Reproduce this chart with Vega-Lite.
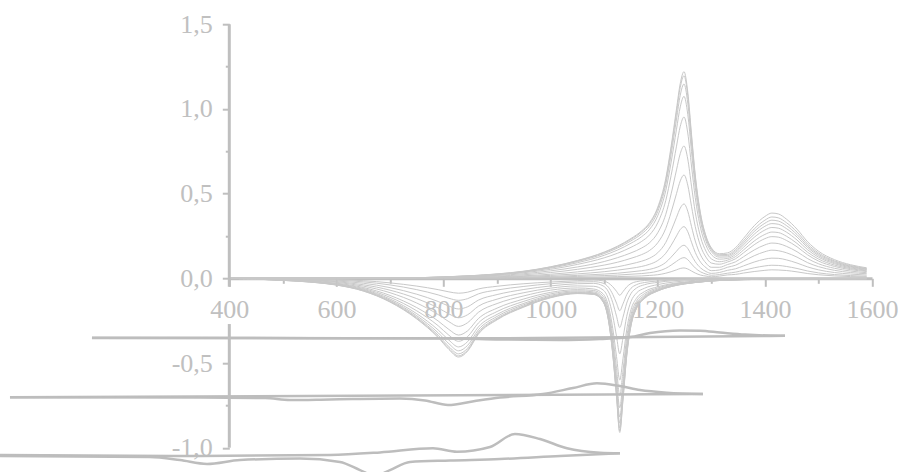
{
  "$schema": "https://vega.github.io/schema/vega-lite/v6.json",
  "width": 642.7,
  "height": 423.5,
  "autosize": "none",
  "padding": {"left": 229.3, "top": 24.2, "right": 34, "bottom": 24.3},
  "background": "white",
  "config": {"view": {"stroke": null}},
  "datasets": {
    "pos": [
      {"x":400,"p1":0,"p2":0,"p3":0,"p4":0,"p5":0,"p6":0,"p7":0,"p8":0,"p9":0,"p10":0,"p11":0,"p12":0},
      {"x":600,"p1":0,"p2":0,"p3":0,"p4":0,"p5":0,"p6":0,"p7":0,"p8":0,"p9":0,"p10":0,"p11":0,"p12":0},
      {"x":700,"p1":0,"p2":0,"p3":0,"p4":0,"p5":0,"p6":0.001,"p7":0.001,"p8":0.001,"p9":0.001,"p10":0.001,"p11":0.001,"p12":0.001},
      {"x":750,"p1":0,"p2":0,"p3":0,"p4":0.001,"p5":0.001,"p6":0.002,"p7":0.002,"p8":0.002,"p9":0.003,"p10":0.003,"p11":0.003,"p12":0.003},
      {"x":800,"p1":0,"p2":0.001,"p3":0.001,"p4":0.002,"p5":0.003,"p6":0.004,"p7":0.005,"p8":0.006,"p9":0.007,"p10":0.008,"p11":0.008,"p12":0.008},
      {"x":850,"p1":0.001,"p2":0.002,"p3":0.002,"p4":0.004,"p5":0.005,"p6":0.008,"p7":0.01,"p8":0.012,"p9":0.013,"p10":0.014,"p11":0.015,"p12":0.015},
      {"x":900,"p1":0.001,"p2":0.003,"p3":0.004,"p4":0.007,"p5":0.009,"p6":0.013,"p7":0.017,"p8":0.02,"p9":0.023,"p10":0.024,"p11":0.025,"p12":0.026},
      {"x":950,"p1":0.002,"p2":0.004,"p3":0.007,"p4":0.011,"p5":0.015,"p6":0.021,"p7":0.027,"p8":0.033,"p9":0.037,"p10":0.039,"p11":0.041,"p12":0.042},
      {"x":1000,"p1":0.003,"p2":0.007,"p3":0.011,"p4":0.017,"p5":0.024,"p6":0.034,"p7":0.044,"p8":0.053,"p9":0.06,"p10":0.064,"p11":0.067,"p12":0.068},
      {"x":1050,"p1":0.005,"p2":0.011,"p3":0.017,"p4":0.026,"p5":0.038,"p6":0.053,"p7":0.067,"p8":0.082,"p9":0.092,"p10":0.099,"p11":0.103,"p12":0.105},
      {"x":1100,"p1":0.008,"p2":0.016,"p3":0.025,"p4":0.039,"p5":0.056,"p6":0.078,"p7":0.099,"p8":0.121,"p9":0.136,"p10":0.146,"p11":0.152,"p12":0.155},
      {"x":1125,"p1":0.01,"p2":0.019,"p3":0.03,"p4":0.048,"p5":0.068,"p6":0.095,"p7":0.122,"p8":0.148,"p9":0.167,"p10":0.179,"p11":0.186,"p12":0.19},
      {"x":1150,"p1":0.012,"p2":0.024,"p3":0.038,"p4":0.059,"p5":0.085,"p6":0.118,"p7":0.15,"p8":0.183,"p9":0.207,"p10":0.221,"p11":0.23,"p12":0.235},
      {"x":1170,"p1":0.014,"p2":0.028,"p3":0.045,"p4":0.07,"p5":0.101,"p6":0.14,"p7":0.179,"p8":0.218,"p9":0.246,"p10":0.263,"p11":0.274,"p12":0.28},
      {"x":1185,"p1":0.017,"p2":0.033,"p3":0.053,"p4":0.083,"p5":0.119,"p6":0.165,"p7":0.211,"p8":0.257,"p9":0.29,"p10":0.31,"p11":0.323,"p12":0.33},
      {"x":1200,"p1":0.021,"p2":0.042,"p3":0.067,"p4":0.105,"p5":0.151,"p6":0.21,"p7":0.269,"p8":0.328,"p9":0.37,"p10":0.395,"p11":0.412,"p12":0.42},
      {"x":1215,"p1":0.03,"p2":0.059,"p3":0.094,"p4":0.148,"p5":0.212,"p6":0.295,"p7":0.378,"p8":0.46,"p9":0.519,"p10":0.555,"p11":0.578,"p12":0.59},
      {"x":1225,"p1":0.039,"p2":0.078,"p3":0.125,"p4":0.195,"p5":0.281,"p6":0.39,"p7":0.499,"p8":0.608,"p9":0.686,"p10":0.733,"p11":0.764,"p12":0.78},
      {"x":1235,"p1":0.05,"p2":0.1,"p3":0.16,"p4":0.25,"p5":0.36,"p6":0.5,"p7":0.64,"p8":0.78,"p9":0.88,"p10":0.94,"p11":0.98,"p12":1.0},
      {"x":1242,"p1":0.058,"p2":0.115,"p3":0.184,"p4":0.288,"p5":0.414,"p6":0.575,"p7":0.736,"p8":0.897,"p9":1.012,"p10":1.081,"p11":1.127,"p12":1.15},
      {"x":1249,"p1":0.061,"p2":0.122,"p3":0.195,"p4":0.305,"p5":0.439,"p6":0.61,"p7":0.781,"p8":0.952,"p9":1.074,"p10":1.147,"p11":1.196,"p12":1.22},
      {"x":1256,"p1":0.055,"p2":0.11,"p3":0.176,"p4":0.275,"p5":0.396,"p6":0.55,"p7":0.704,"p8":0.858,"p9":0.968,"p10":1.034,"p11":1.078,"p12":1.1},
      {"x":1263,"p1":0.043,"p2":0.085,"p3":0.136,"p4":0.213,"p5":0.306,"p6":0.425,"p7":0.544,"p8":0.663,"p9":0.748,"p10":0.799,"p11":0.833,"p12":0.85},
      {"x":1270,"p1":0.031,"p2":0.061,"p3":0.098,"p4":0.153,"p5":0.22,"p6":0.305,"p7":0.39,"p8":0.476,"p9":0.537,"p10":0.573,"p11":0.598,"p12":0.61},
      {"x":1280,"p1":0.019,"p2":0.038,"p3":0.061,"p4":0.095,"p5":0.137,"p6":0.19,"p7":0.243,"p8":0.296,"p9":0.334,"p10":0.357,"p11":0.372,"p12":0.38},
      {"x":1290,"p1":0.013,"p2":0.025,"p3":0.04,"p4":0.063,"p5":0.09,"p6":0.125,"p7":0.16,"p8":0.195,"p9":0.22,"p10":0.235,"p11":0.245,"p12":0.25},
      {"x":1300,"p1":0.009,"p2":0.018,"p3":0.029,"p4":0.045,"p5":0.065,"p6":0.09,"p7":0.115,"p8":0.14,"p9":0.158,"p10":0.169,"p11":0.176,"p12":0.18},
      {"x":1315,"p1":0.013,"p2":0.022,"p3":0.034,"p4":0.049,"p5":0.065,"p6":0.083,"p7":0.098,"p8":0.113,"p9":0.125,"p10":0.133,"p11":0.139,"p12":0.145},
      {"x":1330,"p1":0.02,"p2":0.03,"p3":0.047,"p4":0.065,"p5":0.081,"p6":0.096,"p7":0.107,"p8":0.117,"p9":0.126,"p10":0.134,"p11":0.141,"p12":0.15},
      {"x":1345,"p1":0.023,"p2":0.036,"p3":0.056,"p4":0.077,"p5":0.097,"p6":0.115,"p7":0.128,"p8":0.14,"p9":0.151,"p10":0.16,"p11":0.169,"p12":0.18},
      {"x":1360,"p1":0.031,"p2":0.047,"p3":0.073,"p4":0.101,"p5":0.127,"p6":0.15,"p7":0.167,"p8":0.183,"p9":0.197,"p10":0.209,"p11":0.221,"p12":0.235},
      {"x":1380,"p1":0.04,"p2":0.062,"p3":0.096,"p4":0.133,"p5":0.167,"p6":0.198,"p7":0.22,"p8":0.242,"p9":0.26,"p10":0.276,"p11":0.291,"p12":0.31},
      {"x":1400,"p1":0.047,"p2":0.073,"p3":0.113,"p4":0.157,"p5":0.197,"p6":0.234,"p7":0.259,"p8":0.285,"p9":0.307,"p10":0.325,"p11":0.343,"p12":0.365},
      {"x":1413,"p1":0.05,"p2":0.077,"p3":0.119,"p4":0.166,"p5":0.208,"p6":0.246,"p7":0.273,"p8":0.3,"p9":0.323,"p10":0.343,"p11":0.362,"p12":0.385},
      {"x":1425,"p1":0.049,"p2":0.076,"p3":0.118,"p4":0.163,"p5":0.205,"p6":0.243,"p7":0.27,"p8":0.296,"p9":0.319,"p10":0.338,"p11":0.357,"p12":0.38},
      {"x":1440,"p1":0.046,"p2":0.07,"p3":0.109,"p4":0.151,"p5":0.189,"p6":0.224,"p7":0.249,"p8":0.273,"p9":0.294,"p10":0.312,"p11":0.329,"p12":0.35},
      {"x":1460,"p1":0.038,"p2":0.058,"p3":0.09,"p4":0.125,"p5":0.157,"p6":0.186,"p7":0.206,"p8":0.226,"p9":0.244,"p10":0.258,"p11":0.273,"p12":0.29},
      {"x":1480,"p1":0.028,"p2":0.043,"p3":0.067,"p4":0.092,"p5":0.116,"p6":0.138,"p7":0.153,"p8":0.168,"p9":0.181,"p10":0.191,"p11":0.202,"p12":0.215},
      {"x":1500,"p1":0.021,"p2":0.032,"p3":0.05,"p4":0.069,"p5":0.086,"p6":0.102,"p7":0.114,"p8":0.125,"p9":0.134,"p10":0.142,"p11":0.15,"p12":0.16},
      {"x":1530,"p1":0.014,"p2":0.022,"p3":0.034,"p4":0.047,"p5":0.059,"p6":0.07,"p7":0.078,"p8":0.086,"p9":0.092,"p10":0.098,"p11":0.103,"p12":0.11},
      {"x":1560,"p1":0.01,"p2":0.016,"p3":0.025,"p4":0.034,"p5":0.043,"p6":0.051,"p7":0.057,"p8":0.062,"p9":0.067,"p10":0.071,"p11":0.075,"p12":0.08},
      {"x":1590,"p1":0.008,"p2":0.012,"p3":0.019,"p4":0.027,"p5":0.033,"p6":0.04,"p7":0.044,"p8":0.048,"p9":0.052,"p10":0.055,"p11":0.058,"p12":0.062}
    ],
    "neg": [
      {"x":400,"n1":0,"n2":0,"n3":0,"n4":0,"n5":0,"n6":0,"n7":0,"n8":0,"n9":0,"n10":0,"n11":0,"n12":0},
      {"x":450,"n1":-0.001,"n2":-0.001,"n3":-0.002,"n4":-0.003,"n5":-0.003,"n6":-0.004,"n7":-0.004,"n8":-0.004,"n9":-0.005,"n10":-0.005,"n11":-0.005,"n12":-0.005},
      {"x":500,"n1":-0.002,"n2":-0.003,"n3":-0.005,"n4":-0.006,"n5":-0.007,"n6":-0.009,"n7":-0.01,"n8":-0.01,"n9":-0.011,"n10":-0.012,"n11":-0.012,"n12":-0.012},
      {"x":550,"n1":-0.004,"n2":-0.006,"n3":-0.009,"n4":-0.011,"n5":-0.013,"n6":-0.016,"n7":-0.018,"n8":-0.019,"n9":-0.02,"n10":-0.021,"n11":-0.022,"n12":-0.022},
      {"x":600,"n1":-0.008,"n2":-0.011,"n3":-0.016,"n4":-0.02,"n5":-0.024,"n6":-0.029,"n7":-0.032,"n8":-0.035,"n9":-0.037,"n10":-0.038,"n11":-0.039,"n12":-0.04},
      {"x":650,"n1":-0.014,"n2":-0.021,"n3":-0.029,"n4":-0.038,"n5":-0.046,"n6":-0.054,"n7":-0.06,"n8":-0.065,"n9":-0.069,"n10":-0.072,"n11":-0.074,"n12":-0.075},
      {"x":700,"n1":-0.027,"n2":-0.039,"n3":-0.055,"n4":-0.07,"n5":-0.085,"n6":-0.101,"n7":-0.112,"n8":-0.122,"n9":-0.129,"n10":-0.134,"n11":-0.138,"n12":-0.14},
      {"x":750,"n1":-0.046,"n2":-0.067,"n3":-0.094,"n4":-0.12,"n5":-0.146,"n6":-0.173,"n7":-0.192,"n8":-0.209,"n9":-0.221,"n10":-0.23,"n11":-0.236,"n12":-0.24},
      {"x":790,"n1":-0.067,"n2":-0.098,"n3":-0.137,"n4":-0.175,"n5":-0.214,"n6":-0.252,"n7":-0.28,"n8":-0.305,"n9":-0.322,"n10":-0.336,"n11":-0.345,"n12":-0.35},
      {"x":810,"n1":-0.08,"n2":-0.118,"n3":-0.164,"n4":-0.21,"n5":-0.256,"n6":-0.302,"n7":-0.336,"n8":-0.365,"n9":-0.386,"n10":-0.403,"n11":-0.414,"n12":-0.42},
      {"x":828,"n1":-0.088,"n2":-0.13,"n3":-0.181,"n4":-0.233,"n5":-0.284,"n6":-0.335,"n7":-0.372,"n8":-0.405,"n9":-0.428,"n10":-0.446,"n11":-0.458,"n12":-0.465},
      {"x":845,"n1":-0.082,"n2":-0.12,"n3":-0.168,"n4":-0.215,"n5":-0.262,"n6":-0.31,"n7":-0.344,"n8":-0.374,"n9":-0.396,"n10":-0.413,"n11":-0.424,"n12":-0.43},
      {"x":865,"n1":-0.063,"n2":-0.092,"n3":-0.129,"n4":-0.165,"n5":-0.201,"n6":-0.238,"n7":-0.264,"n8":-0.287,"n9":-0.304,"n10":-0.317,"n11":-0.325,"n12":-0.33},
      {"x":900,"n1":-0.047,"n2":-0.069,"n3":-0.096,"n4":-0.123,"n5":-0.149,"n6":-0.176,"n7":-0.196,"n8":-0.213,"n9":-0.225,"n10":-0.235,"n11":-0.241,"n12":-0.245},
      {"x":950,"n1":-0.032,"n2":-0.048,"n3":-0.066,"n4":-0.085,"n5":-0.104,"n6":-0.122,"n7":-0.136,"n8":-0.148,"n9":-0.156,"n10":-0.163,"n11":-0.167,"n12":-0.17},
      {"x":1000,"n1":-0.022,"n2":-0.032,"n3":-0.045,"n4":-0.058,"n5":-0.07,"n6":-0.083,"n7":-0.092,"n8":-0.1,"n9":-0.106,"n10":-0.11,"n11":-0.113,"n12":-0.115},
      {"x":1050,"n1":-0.014,"n2":-0.022,"n3":-0.032,"n4":-0.045,"n5":-0.057,"n6":-0.067,"n7":-0.074,"n8":-0.08,"n9":-0.084,"n10":-0.087,"n11":-0.089,"n12":-0.09},
      {"x":1080,"n1":-0.01,"n2":-0.02,"n3":-0.03,"n4":-0.047,"n5":-0.063,"n6":-0.072,"n7":-0.08,"n8":-0.086,"n9":-0.089,"n10":-0.092,"n11":-0.094,"n12":-0.095},
      {"x":1098,"n1":-0.015,"n2":-0.029,"n3":-0.045,"n4":-0.069,"n5":-0.092,"n6":-0.106,"n7":-0.118,"n8":-0.126,"n9":-0.132,"n10":-0.136,"n11":-0.139,"n12":-0.14},
      {"x":1108,"n1":-0.028,"n2":-0.053,"n3":-0.08,"n4":-0.123,"n5":-0.165,"n6":-0.19,"n7":-0.21,"n8":-0.225,"n9":-0.235,"n10":-0.243,"n11":-0.248,"n12":-0.25},
      {"x":1116,"n1":-0.05,"n2":-0.095,"n3":-0.144,"n4":-0.221,"n5":-0.297,"n6":-0.342,"n7":-0.378,"n8":-0.405,"n9":-0.423,"n10":-0.437,"n11":-0.446,"n12":-0.45},
      {"x":1123,"n1":-0.077,"n2":-0.147,"n3":-0.224,"n4":-0.343,"n5":-0.462,"n6":-0.532,"n7":-0.588,"n8":-0.63,"n9":-0.658,"n10":-0.679,"n11":-0.693,"n12":-0.7},
      {"x":1129,"n1":-0.1,"n2":-0.191,"n3":-0.291,"n4":-0.446,"n5":-0.601,"n6":-0.692,"n7":-0.764,"n8":-0.819,"n9":-0.855,"n10":-0.883,"n11":-0.901,"n12":-0.91},
      {"x":1135,"n1":-0.079,"n2":-0.151,"n3":-0.23,"n4":-0.353,"n5":-0.475,"n6":-0.547,"n7":-0.605,"n8":-0.648,"n9":-0.677,"n10":-0.698,"n11":-0.713,"n12":-0.72},
      {"x":1142,"n1":-0.051,"n2":-0.097,"n3":-0.147,"n4":-0.225,"n5":-0.304,"n6":-0.35,"n7":-0.386,"n8":-0.414,"n9":-0.432,"n10":-0.446,"n11":-0.455,"n12":-0.46},
      {"x":1150,"n1":-0.031,"n2":-0.059,"n3":-0.09,"n4":-0.137,"n5":-0.185,"n6":-0.213,"n7":-0.235,"n8":-0.252,"n9":-0.263,"n10":-0.272,"n11":-0.277,"n12":-0.28},
      {"x":1160,"n1":-0.02,"n2":-0.038,"n3":-0.058,"n4":-0.088,"n5":-0.119,"n6":-0.137,"n7":-0.151,"n8":-0.162,"n9":-0.169,"n10":-0.175,"n11":-0.178,"n12":-0.18},
      {"x":1175,"n1":-0.013,"n2":-0.025,"n3":-0.038,"n4":-0.059,"n5":-0.079,"n6":-0.091,"n7":-0.101,"n8":-0.108,"n9":-0.113,"n10":-0.116,"n11":-0.119,"n12":-0.12},
      {"x":1200,"n1":-0.008,"n2":-0.016,"n3":-0.024,"n4":-0.037,"n5":-0.05,"n6":-0.057,"n7":-0.063,"n8":-0.068,"n9":-0.071,"n10":-0.073,"n11":-0.074,"n12":-0.075},
      {"x":1230,"n1":-0.005,"n2":-0.009,"n3":-0.014,"n4":-0.022,"n5":-0.03,"n6":-0.034,"n7":-0.038,"n8":-0.041,"n9":-0.042,"n10":-0.044,"n11":-0.045,"n12":-0.045},
      {"x":1270,"n1":-0.003,"n2":-0.005,"n3":-0.008,"n4":-0.012,"n5":-0.017,"n6":-0.019,"n7":-0.021,"n8":-0.023,"n9":-0.024,"n10":-0.024,"n11":-0.025,"n12":-0.025},
      {"x":1320,"n1":-0.001,"n2":-0.003,"n3":-0.004,"n4":-0.006,"n5":-0.008,"n6":-0.009,"n7":-0.01,"n8":-0.011,"n9":-0.011,"n10":-0.012,"n11":-0.012,"n12":-0.012},
      {"x":1400,"n1":-0.001,"n2":-0.001,"n3":-0.002,"n4":-0.003,"n5":-0.004,"n6":-0.005,"n7":-0.005,"n8":-0.005,"n9":-0.006,"n10":-0.006,"n11":-0.006,"n12":-0.006},
      {"x":1500,"n1":0,"n2":-0.001,"n3":-0.001,"n4":-0.002,"n5":-0.003,"n6":-0.003,"n7":-0.003,"n8":-0.004,"n9":-0.004,"n10":-0.004,"n11":-0.004,"n12":-0.004},
      {"x":1590,"n1":0,"n2":-0.001,"n3":-0.001,"n4":-0.001,"n5":-0.002,"n6":-0.002,"n7":-0.003,"n8":-0.003,"n9":-0.003,"n10":-0.003,"n11":-0.003,"n12":-0.003}
    ],
    "over": [
      {"s":"A1","x":143.6,"y":-0.352},{"s":"A1","x":905.4,"y":-0.354},{"s":"A1","x":1437.6,"y":-0.339},
      {"s":"A2","x":143.6,"y":-0.351},{"s":"A2","x":812.1,"y":-0.355},{"s":"A2","x":905.4,"y":-0.361},{"s":"A2","x":1017.5,"y":-0.364},{"s":"A2","x":1092.1,"y":-0.358},{"s":"A2","x":1148.2,"y":-0.347},{"s":"A2","x":1185.5,"y":-0.323},{"s":"A2","x":1241.5,"y":-0.308},{"s":"A2","x":1278.9,"y":-0.31},{"s":"A2","x":1316.2,"y":-0.32},{"s":"A2","x":1362.9,"y":-0.332},{"s":"A2","x":1409.5,"y":-0.338},{"s":"A2","x":1437.6,"y":-0.339},
      {"s":"B1","x":-9.5,"y":-0.7025},{"s":"B1","x":1284.4,"y":-0.683},
      {"s":"B2","x":-9.5,"y":-0.7025},{"s":"B2","x":345.3,"y":-0.704},{"s":"B2","x":466.7,"y":-0.707},{"s":"B2","x":513.3,"y":-0.718},{"s":"B2","x":588,"y":-0.715},{"s":"B2","x":718.7,"y":-0.71},{"s":"B2","x":765.4,"y":-0.721},{"s":"B2","x":808.3,"y":-0.748},{"s":"B2","x":858.7,"y":-0.724},{"s":"B2","x":905.4,"y":-0.704},{"s":"B2","x":985.7,"y":-0.683},{"s":"B2","x":1041.7,"y":-0.648},{"s":"B2","x":1086.5,"y":-0.62},{"s":"B2","x":1129.5,"y":-0.636},{"s":"B2","x":1166.8,"y":-0.659},{"s":"B2","x":1217.2,"y":-0.675},{"s":"B2","x":1284.4,"y":-0.683},
      {"s":"C1","x":-28.1,"y":-1.043},{"s":"C1","x":345.3,"y":-1.049},{"s":"C1","x":588,"y":-1.043},{"s":"C1","x":681.4,"y":-1.028},{"s":"C1","x":780.3,"y":-1.0035},{"s":"C1","x":825.1,"y":-1.024},{"s":"C1","x":886.8,"y":-0.996},{"s":"C1","x":933.4,"y":-0.919},{"s":"C1","x":980.1,"y":-0.949},{"s":"C1","x":1030.5,"y":-1.0035},{"s":"C1","x":1092.1,"y":-1.0295},{"s":"C1","x":1129.5,"y":-1.033},
      {"s":"C2","x":-28.1,"y":-1.049},{"s":"C2","x":251.9,"y":-1.055},{"s":"C2","x":308,"y":-1.073},{"s":"C2","x":358.4,"y":-1.096},{"s":"C2","x":420,"y":-1.073},{"s":"C2","x":532,"y":-1.064},{"s":"C2","x":606.7,"y":-1.084},{"s":"C2","x":644,"y":-1.132},{"s":"C2","x":672,"y":-1.167},{"s":"C2","x":700,"y":-1.132},{"s":"C2","x":737.4,"y":-1.084},{"s":"C2","x":812.1,"y":-1.0755},{"s":"C2","x":905.4,"y":-1.067},{"s":"C2","x":1017.5,"y":-1.049},{"s":"C2","x":1129.5,"y":-1.033}
    ],
    "ydom": [
      {"y":-1.0,"y2":-0.27},
      {"y":-0.05,"y2":1.5}
    ]
  },
  "layer": [
    {
      "data": {"name": "neg"},
      "transform": [{"fold": ["n1","n2","n3","n4","n5","n6","n7","n8","n9","n10","n11","n12"], "as": ["curve","y"]}],
      "mark": {"type": "line", "interpolate": "monotone", "strokeWidth": 1, "color": "#c8c8c8"},
      "encoding": {
        "x": {"field": "x", "type": "quantitative", "title": null,
          "scale": {"domain": [400, 1600], "nice": false, "zero": false},
          "axis": {
            "values": [400,500,600,700,800,900,1000,1100,1200,1300,1400,1500,1600],
            "offset": -169.4,
            "format": "d",
            "labelExpr": "datum.value % 200 == 0 ? datum.label : ''",
            "domainColor": "#bfbfbf", "domainWidth": 3,
            "tickColor": "#bfbfbf", "tickWidth": 2,
            "tickSize": {"condition": {"test": "datum.value % 200 == 0", "value": 8}, "value": 5},
            "labelFont": "Liberation Serif", "labelFontSize": 26, "labelColor": "#c0c0c0",
            "labelPadding": 10, "labelFlush": false, "labelOverlap": false, "grid": false
          }
        },
        "y": {"field": "y", "type": "quantitative", "title": null,
          "scale": {"domain": [-1, 1.5], "nice": false, "zero": false},
          "axis": {
            "values": [-1,-0.75,-0.5,0,0.25,0.5,0.75,1,1.25,1.5],
            "domain": false,
            "labelExpr": "(datum.value * 2) % 1 != 0 ? '' : (datum.value < 0 ? '-' : '') + replace(format(abs(datum.value), '.1f'), '.', ',')",
            "tickColor": "#bfbfbf", "tickWidth": 2,
            "tickSize": {"condition": {"test": "(datum.value * 2) % 1 == 0", "value": 7}, "value": 4},
            "labelFont": "Liberation Serif", "labelFontSize": 26, "labelColor": "#c0c0c0",
            "labelPadding": 10, "labelFlush": false, "labelOverlap": false, "grid": false
          }
        },
        "detail": {"field": "curve"}
      }
    },
    {
      "data": {"name": "pos"},
      "transform": [{"fold": ["p1","p2","p3","p4","p5","p6","p7","p8","p9","p10","p11","p12"], "as": ["curve","y"]}],
      "mark": {"type": "line", "interpolate": "monotone", "strokeWidth": 1, "color": "#c8c8c8"},
      "encoding": {
        "x": {"field": "x", "type": "quantitative", "title": null},
        "y": {"field": "y", "type": "quantitative", "title": null},
        "detail": {"field": "curve"}
      }
    },
    {
      "data": {"name": "over"},
      "mark": {"type": "line", "interpolate": "monotone", "strokeWidth": 2.5, "color": "#bdbdbd"},
      "encoding": {
        "x": {"field": "x", "type": "quantitative", "title": null},
        "y": {"field": "y", "type": "quantitative", "title": null},
        "detail": {"field": "s"}
      }
    },
    {
      "data": {"name": "ydom"},
      "mark": {"type": "rule", "strokeWidth": 3, "color": "#bfbfbf"},
      "encoding": {
        "x": {"datum": 400, "type": "quantitative"},
        "y": {"field": "y", "type": "quantitative", "title": null},
        "y2": {"field": "y2"}
      }
    }
  ]
}
